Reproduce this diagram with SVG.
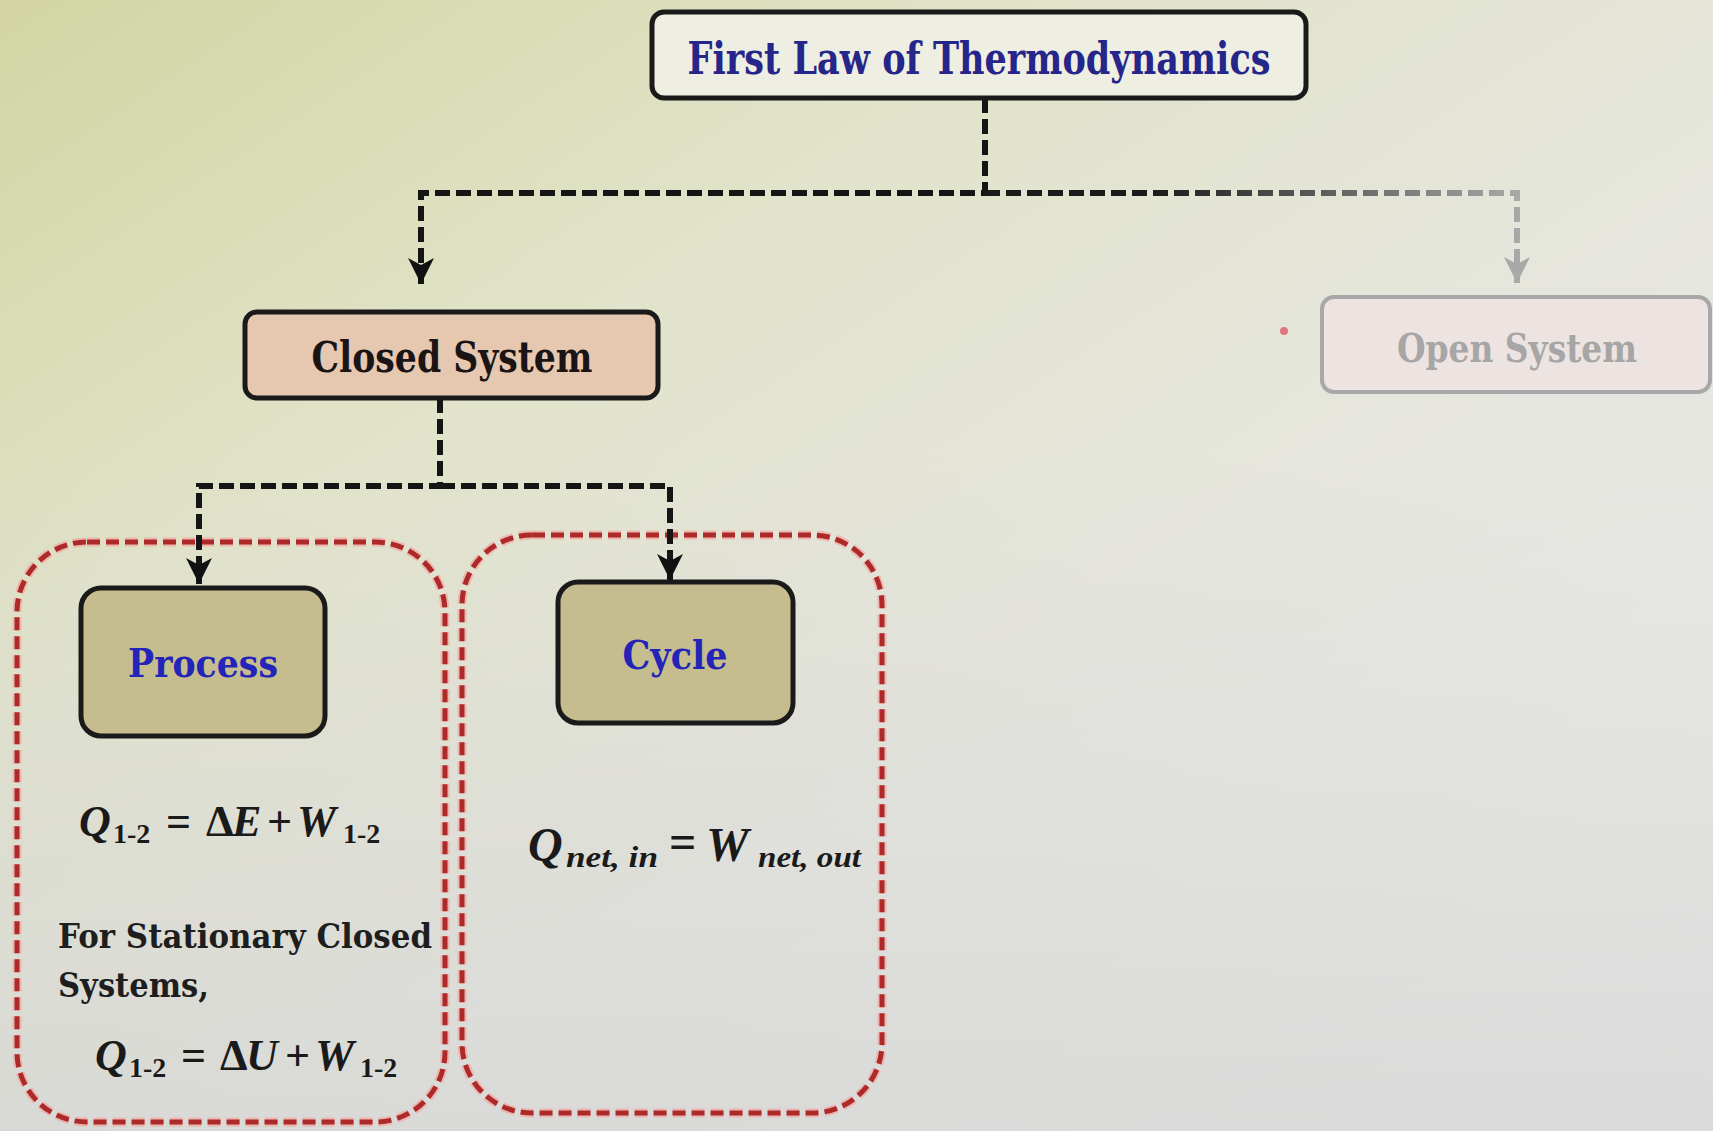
<svg xmlns="http://www.w3.org/2000/svg" width="1713" height="1131" viewBox="0 0 1713 1131">
<defs>
<linearGradient id="bg" x1="0" y1="0" x2="1" y2="1">
<stop offset="0" stop-color="#d2d5a2"/>
<stop offset="0.3" stop-color="#e1e3c9"/>
<stop offset="0.6" stop-color="#e6e6df"/>
<stop offset="1" stop-color="#eaeaea"/>
</linearGradient>
<linearGradient id="shade" x1="0" y1="0" x2="0" y2="1">
<stop offset="0.4" stop-color="#d6d6d6" stop-opacity="0"/>
<stop offset="1" stop-color="#d4d4d4" stop-opacity="0.7"/>
</linearGradient>
<linearGradient id="fade" gradientUnits="userSpaceOnUse" x1="1150" y1="0" x2="1520" y2="0">
<stop offset="0" stop-color="#1a1a1a"/>
<stop offset="1" stop-color="#a9a9a9"/>
</linearGradient>
<marker id="arr" viewBox="0 0 26 26" refX="26" refY="13" markerWidth="26" markerHeight="26" markerUnits="userSpaceOnUse" orient="auto">
<path d="M0,0 L26,13 L0,26 L7,13 z" fill="#111"/>
</marker>
<marker id="arrg" viewBox="0 0 26 26" refX="26" refY="13" markerWidth="26" markerHeight="26" markerUnits="userSpaceOnUse" orient="auto">
<path d="M0,0 L26,13 L0,26 L7,13 z" fill="#a9a9a9"/>
</marker>
</defs>
<style>
.box{stroke:#1a1a1a;stroke-width:5}
.lbl{font-family:"DejaVu Serif","Liberation Serif",serif;font-weight:bold;text-anchor:middle}
.blue{fill:#2424b8}
.conn{fill:none;stroke:#151515;stroke-width:6;stroke-dasharray:15 6}
.halo{fill:none;stroke:#f2a6a0;stroke-width:9;stroke-dasharray:13 6;opacity:0.7}
.red{fill:none;stroke:#ad2a2a;stroke-width:5;stroke-dasharray:13 6}
.math{font-family:"Liberation Serif","DejaVu Serif",serif;font-style:italic;font-weight:bold;fill:#1a1a1a}
.up{font-style:normal}
.note{font-family:"DejaVu Serif","Liberation Serif",serif;font-weight:bold;fill:#1e1e1e;font-size:34px}
</style>
<rect width="1713" height="1131" fill="url(#bg)"/>
<rect width="1713" height="1131" fill="url(#shade)"/>

<g id="group-process">
<rect class="halo" x="17" y="542" width="428" height="580" rx="70"/>
<rect class="red" x="17" y="542" width="428" height="580" rx="70"/>
</g>
<g id="group-cycle">
<rect class="halo" x="462" y="535" width="420" height="578" rx="70"/>
<rect class="red" x="462" y="535" width="420" height="578" rx="70"/>
</g>

<g id="connectors">
<path class="conn" d="M985,98 V193 H421 V284" marker-end="url(#arr)"/>
<path class="conn" d="M985,193 H1517 V283" style="stroke:url(#fade)" marker-end="url(#arrg)"/>
<path class="conn" d="M440,398 V486 H199 V584" marker-end="url(#arr)"/>
<path class="conn" d="M440,486 H670 V580" marker-end="url(#arr)"/>
</g>

<g id="first-law">
<rect class="box" x="652" y="12" width="654" height="86" rx="12" fill="#eeeee2"/>
<text class="lbl" x="979" y="74" font-size="44" fill="#25258a" textLength="583" lengthAdjust="spacingAndGlyphs">First Law of Thermodynamics</text>
</g>

<g id="closed-system">
<rect class="box" x="245" y="312" width="413" height="86" rx="12" fill="#e6c7b0"/>
<text class="lbl" x="452" y="372" font-size="42" fill="#1a1414" textLength="281" lengthAdjust="spacingAndGlyphs">Closed System</text>
</g>

<g id="open-system">
<rect x="1322" y="297" width="388" height="95" rx="12" fill="#ede3e1" stroke="#a8a8a8" stroke-width="4"/>
<text class="lbl" x="1517" y="362" font-size="40" fill="#a6a6a6" textLength="240" lengthAdjust="spacingAndGlyphs">Open System</text>
</g>
<circle cx="1284" cy="331" r="4" fill="#e2606c" opacity="0.85"/>

<g id="process">
<rect class="box" x="81" y="588" width="244" height="148" rx="20" fill="#c6bd8f"/>
<text class="lbl blue" x="203" y="677" font-size="40" textLength="150" lengthAdjust="spacingAndGlyphs">Process</text>
</g>

<g id="cycle">
<rect class="box" x="558" y="582" width="235" height="141" rx="20" fill="#c6bd8f"/>
<text class="lbl blue" x="675" y="669" font-size="40" textLength="105" lengthAdjust="spacingAndGlyphs">Cycle</text>
</g>

<g id="process-text">
<text class="math" font-size="44" y="836">
<tspan x="79">Q</tspan><tspan x="113" y="843" font-size="28" class="up">1-2</tspan><tspan x="166" y="836" class="up">=</tspan><tspan x="206" class="up">Δ</tspan><tspan x="232">E</tspan><tspan x="267" class="up">+</tspan><tspan x="297">W</tspan><tspan x="343" y="843" font-size="28" class="up">1-2</tspan>
</text>
<text class="note" x="58" y="948" textLength="374" lengthAdjust="spacingAndGlyphs">For Stationary Closed</text>
<text class="note" x="58" y="997" textLength="151" lengthAdjust="spacingAndGlyphs">Systems,</text>
<text class="math" font-size="44" y="1070">
<tspan x="95">Q</tspan><tspan x="129" y="1077" font-size="28" class="up">1-2</tspan><tspan x="181" y="1070" class="up">=</tspan><tspan x="220" class="up">Δ</tspan><tspan x="246">U</tspan><tspan x="285" class="up">+</tspan><tspan x="315">W</tspan><tspan x="360" y="1077" font-size="28" class="up">1-2</tspan>
</text>
</g>

<g id="cycle-text">
<text class="math" font-size="48" y="861">
<tspan x="528">Q</tspan><tspan x="566" y="867" font-size="30" textLength="92" lengthAdjust="spacingAndGlyphs">net, in</tspan><tspan x="669" y="858" class="up">=</tspan><tspan x="706" y="861">W</tspan><tspan x="758" y="867" font-size="30" textLength="103" lengthAdjust="spacingAndGlyphs">net, out</tspan>
</text>
</g>
</svg>
